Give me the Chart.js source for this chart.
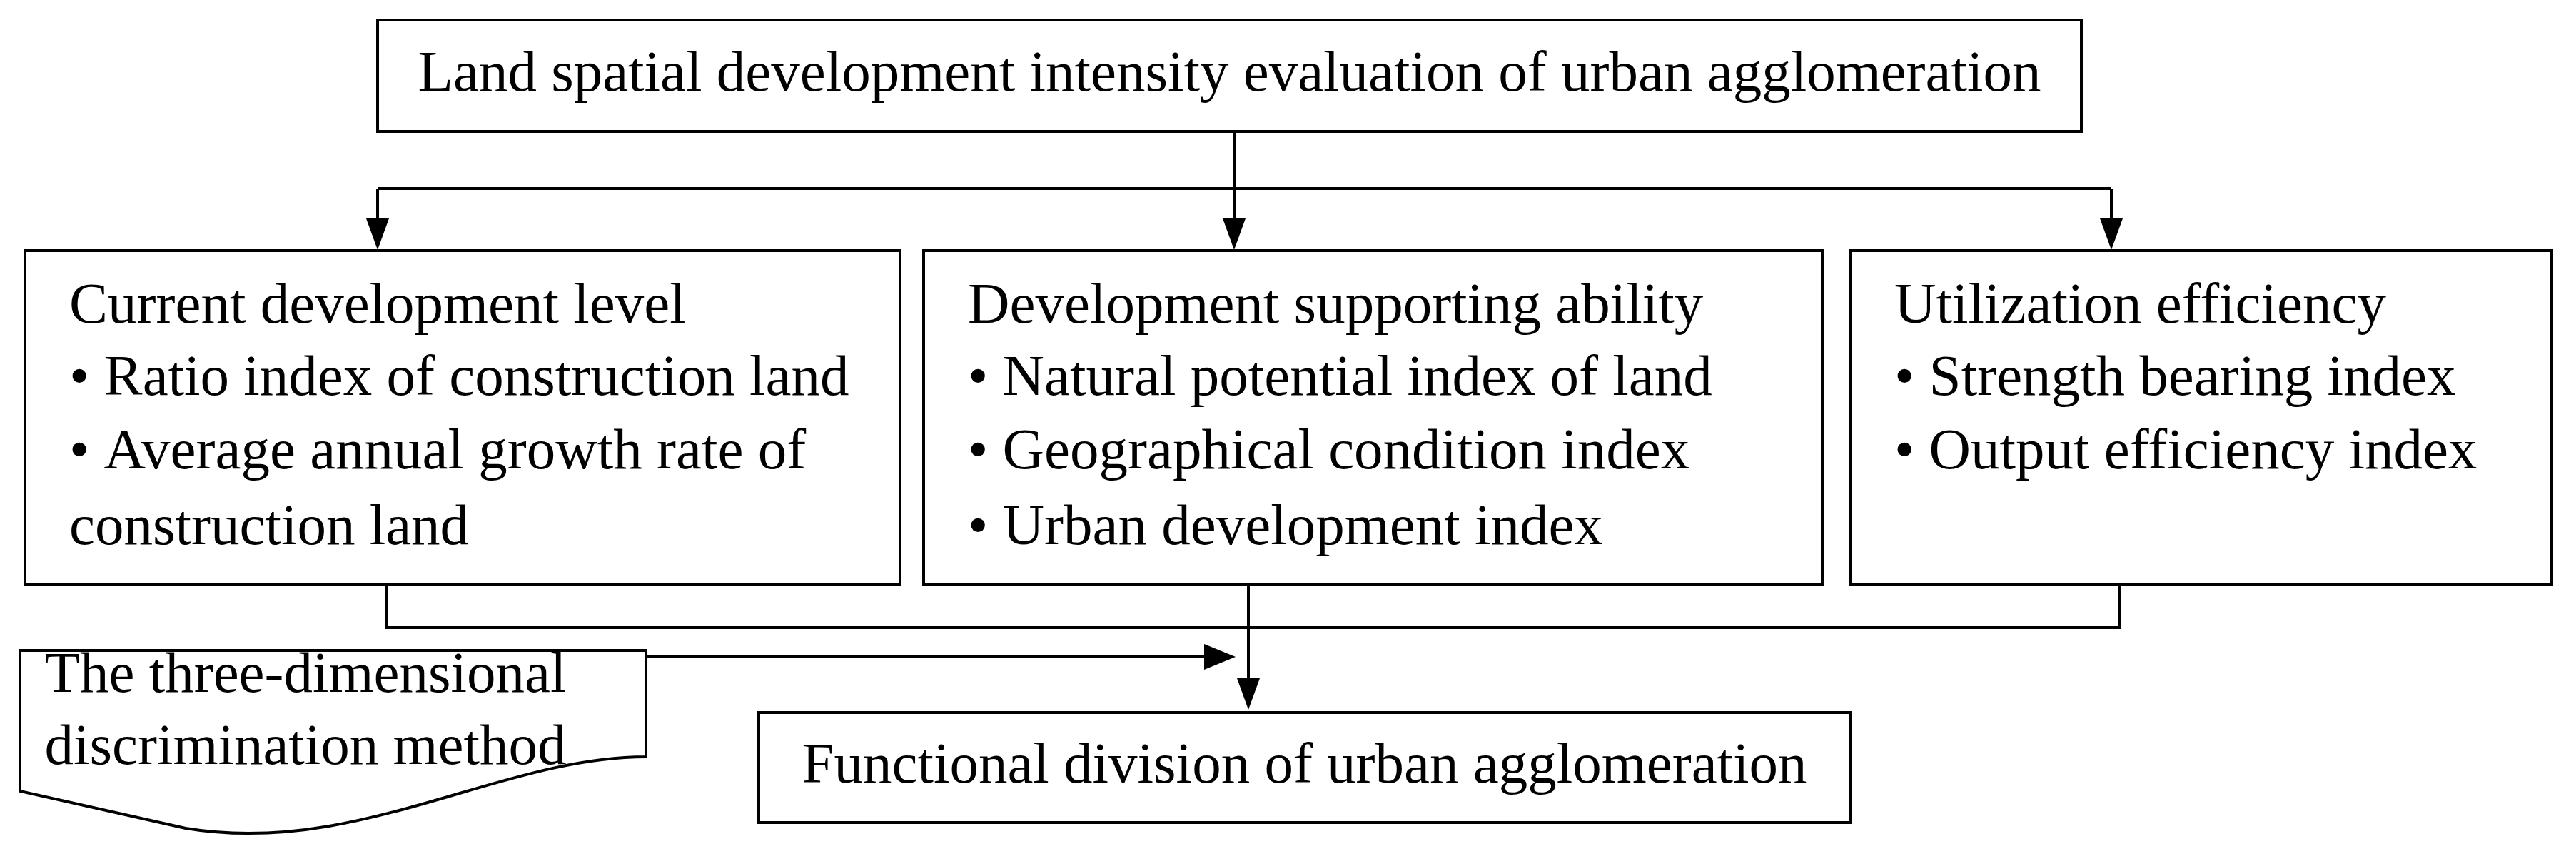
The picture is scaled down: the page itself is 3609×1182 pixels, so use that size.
<!DOCTYPE html>
<html><head><meta charset="utf-8">
<script src="https://cdn.jsdelivr.net/npm/chart.js@4"></script>
<style>html,body{margin:0;padding:0;background:#fff;overflow:hidden}</style>
</head><body>
<canvas id="c" width="3609" height="1182"></canvas>
<script>
// Text content
const titleText = ["Land spatial development intensity evaluation of urban agglomeration"];
const box1Text = ["Current development level", "\u2022 Ratio index of construction land", "\u2022 Average annual growth rate of", "construction land"];
const box2Text = ["Development supporting ability", "\u2022 Natural potential index of land", "\u2022 Geographical condition index", "\u2022 Urban development index"];
const box3Text = ["Utilization efficiency", "\u2022 Strength bearing index", "\u2022 Output efficiency index"];
const methodText = ["The three-dimensional", "discrimination method"];
const resultText = ["Functional division of urban agglomeration"];

// Layout (in axis units)
const rects = [
  {x0:529,y0:28,x1:2916,y1:184,text:titleText,align:'center'},
  {x0:35,y0:351,x1:1261,y1:819,text:box1Text,align:'left'},
  {x0:1294,y0:351,x1:2553,y1:819,text:box2Text,align:'left'},
  {x0:2592,y0:351,x1:3575,y1:819,text:box3Text,align:'left'},
  {x0:1063,y0:998,x1:2592,y1:1152,text:resultText,align:'center'}
];
const lineYs = [431,532,635,741];

const plugin = {
  id:'flow',
  afterDraw(chart){
    const ctx = chart.ctx, xs = chart.scales.x, ys = chart.scales.y;
    const X = v=>xs.getPixelForValue(v), Y = v=>ys.getPixelForValue(v);
    ctx.save();
    ctx.strokeStyle='#000'; ctx.fillStyle='#000'; ctx.lineWidth=4;
    ctx.font='81px "Liberation Serif", "Times New Roman", serif';
    ctx.textBaseline='middle';
    function line(pts){ctx.beginPath();ctx.moveTo(X(pts[0][0]),Y(pts[0][1]));for(let i=1;i<pts.length;i++)ctx.lineTo(X(pts[i][0]),Y(pts[i][1]));ctx.stroke();}
    function arrowDown(x,y){ctx.beginPath();ctx.moveTo(X(x),Y(y));ctx.lineTo(X(x-16),Y(y-44));ctx.lineTo(X(x+16),Y(y-44));ctx.closePath();ctx.fill();}
    function arrowRight(x,y){ctx.beginPath();ctx.moveTo(X(x),Y(y));ctx.lineTo(X(x-44),Y(y-18));ctx.lineTo(X(x-44),Y(y+18));ctx.closePath();ctx.fill();}
    rects.forEach((r,i)=>{
      ctx.strokeRect(X(r.x0),Y(r.y0),X(r.x1)-X(r.x0),Y(r.y1)-Y(r.y0));
      if(r.align==='center'){
        ctx.textAlign='center';
        ctx.fillText(r.text[0],X((r.x0+r.x1)/2),Y((r.y0+r.y1)/2));
      } else {
        ctx.textAlign='left';
        r.text.forEach((t,j)=>ctx.fillText(t,X(r.x0+62),Y(lineYs[j])));
      }
    });
    line([[1729,184],[1729,264]]);
    line([[529,264],[2958,264]]);
    line([[529,264],[529,344]]); arrowDown(529,350);
    line([[1729,264],[1729,344]]); arrowDown(1729,350);
    line([[2958,264],[2958,344]]); arrowDown(2958,350);
    line([[541,819],[541,879],[2969,879],[2969,819]]);
    line([[1749,819],[1749,950]]); arrowDown(1749,994);
    ctx.beginPath();
    ctx.moveTo(X(28),Y(911));ctx.lineTo(X(905),Y(911));ctx.lineTo(X(905),Y(1060));
    ctx.bezierCurveTo(X(700),Y(1060),X(500),Y(1200),X(260),Y(1160));
    ctx.lineTo(X(28),Y(1108));ctx.closePath();ctx.stroke();
    ctx.textAlign='center';
    ctx.fillText(methodText[0],X(428),Y(948));
    ctx.fillText(methodText[1],X(428),Y(1049));
    line([[905,920],[1690,920]]); arrowRight(1731,920);
    ctx.restore();
  }
};

new Chart(document.getElementById('c'),{
  type:'scatter',
  data:{datasets:[{data:[]}]},
  options:{
    responsive:false,animation:false,devicePixelRatio:1,
    layout:{padding:0},
    plugins:{legend:{display:false},tooltip:{enabled:false}},
    scales:{
      x:{type:'linear',min:0,max:3609,display:false},
      y:{type:'linear',min:0,max:1182,reverse:true,display:false}
    }
  },
  plugins:[plugin]
});
</script>
</body></html>
